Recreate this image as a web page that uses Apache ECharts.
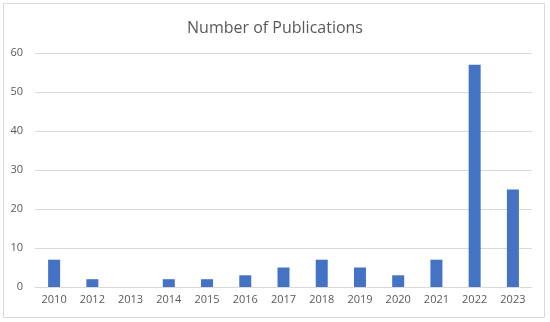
<!DOCTYPE html>
<html>
<head>
<meta charset="utf-8">
<script src="https://cdn.jsdelivr.net/npm/echarts@6/dist/echarts.min.js"></script>
<style>html,body{margin:0;padding:0;background:#fff;}#c{width:550px;height:322px;}</style>
</head>
<body>
<div id="c"></div>
<script>
const categories = ['2010','2012','2013','2014','2015','2016','2017','2018','2019','2020','2021','2022','2023'];
const publications = [7,2,0,2,2,3,5,7,5,3,7,57,25];
const yTicks = [0,10,20,30,40,50,60];

const chart = echarts.init(document.getElementById('c'));
chart.setOption({
  animation: false,
  backgroundColor: '#fff',
  title: {
    text: 'Number of Publications', left: 'center', top: 15,
    textStyle: { fontFamily: 'Open Sans', fontSize: 16, fontWeight: 'normal', color: '#595959' }
  },
  graphic: [{
    type: 'rect', shape: { x: 3.5, y: 3.5, width: 541, height: 314 },
    style: { fill: 'none', stroke: '#d9d9d9', lineWidth: 1 }, silent: true, z: -1
  }],
  grid: { left: 35, right: 18, top: 53, bottom: 35 },
  xAxis: {
    type: 'category', data: categories,
    axisLine: { lineStyle: { color: '#d9d9d9' } },
    axisTick: { show: false },
    axisLabel: { color: '#595959', fontFamily: 'Open Sans', fontSize: 11, margin: 7 }
  },
  yAxis: {
    type: 'value', min: yTicks[0], max: yTicks[yTicks.length-1], interval: 10,
    axisLine: { show: false }, axisTick: { show: false },
    splitLine: { lineStyle: { color: '#d9d9d9' } },
    axisLabel: { color: '#595959', fontFamily: 'Open Sans', fontSize: 11, margin: 12 }
  },
  series: [{
    type: 'bar', data: publications, barWidth: 12,
    itemStyle: { color: '#4472C4' }
  }]
});
</script>
</body>
</html>
